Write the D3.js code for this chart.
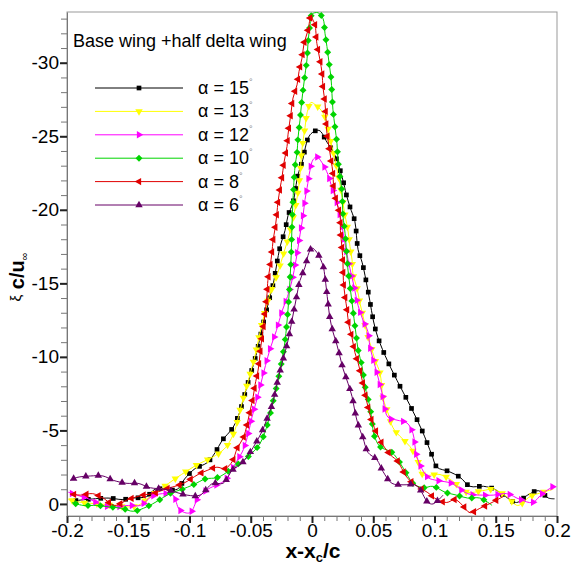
<!DOCTYPE html>
<html>
<head>
<meta charset="utf-8">
<script src="https://cdn.jsdelivr.net/npm/d3@7"></script>
<style>
  body { margin: 0; background: #fff; }
  svg { display: block; font-family: Arial, "Liberation Sans", sans-serif; }
</style>
</head>
<body>
<svg id="chart" width="574" height="563"></svg>
<script>
// legend labels, colours
var alphas = [15, 13, 12, 10, 8, 6];
var colors = ["#000000", "#ffff00", "#ff00ff", "#00d400", "#e00000", "#660066"];

var xTicks = [-0.2, -0.15, -0.1, -0.05, 0, 0.05, 0.1, 0.15, 0.2];
var xTickLabels = ["-0.2", "-0.15", "-0.1", "-0.05", "0", "0.05", "0.1", "0.15", "0.2"];
var yTicks = [0, -5, -10, -15, -20, -25, -30];
var yTickLabels = ["0", "-5", "-10", "-15", "-20", "-25", "-30"];

// [x - xc / c, xi c / u]
var a15 = [[-0.196,-0.2],[-0.1665,-0.4],[-0.155,-0.3],[-0.146,-0.4],[-0.135,-0.5],[-0.128,-1.0],
  [-0.110,-1.0],[-0.104,-1.7],[-0.0955,-2.4],[-0.0857,-2.8],[-0.079,-3.5],[-0.0735,-4.3],
  [-0.0645,-5.2],[-0.0588,-6.3],[-0.0547,-7.5],[-0.052,-8.3],[-0.0457,-10.1],[-0.040,-12.2],
  [-0.0343,-14.1],[-0.0318,-14.9],[-0.026,-17.5],[-0.022,-18.6],[-0.0196,-19.6],[-0.0155,-20.5],
  [-0.0114,-22.4],[-0.0082,-23.2],[-0.0016,-25.1],[0.0057,-25.4],[0.0122,-24.6],[0.0188,-23.7],
  [0.0253,-22.0],[0.0278,-21.1],[0.031,-20.2],[0.035,-19.2],[0.0376,-17.3],[0.041,-16.4],
  [0.0457,-14.5],[0.052,-11.8],[0.0596,-10.1],[0.0694,-8.4],[0.080,-6.7],[0.0898,-5.0],
  [0.098,-3.3],[0.102,-2.5],[0.112,-2.2],[0.121,-1.8],[0.129,-1.2],[0.140,-1.2],[0.149,-1.0],
  [0.158,-0.5],[0.167,-0.1],[0.176,-0.6],[0.185,-0.9],[0.193,-0.4],[0.198,-0.35]];

var a13 = [[-0.199,-0.3],[-0.188,-0.1],[-0.173,0.0],[-0.161,0.1],[-0.150,0.2],[-0.142,0.1],
  [-0.132,-0.5],[-0.122,-1.1],[-0.112,-1.7],[-0.101,-2.3],[-0.093,-2.7],[-0.083,-3.1],
  [-0.075,-3.5],[-0.069,-4.0],[-0.063,-5.0],[-0.059,-6.3],[-0.053,-8.1],[-0.0465,-10.1],
  [-0.041,-12.2],[-0.035,-14.1],[-0.028,-15.7],[-0.024,-16.8],[-0.018,-18.5],[-0.012,-20.9],
  [-0.0098,-22.4],[-0.0082,-24.1],[-0.0057,-25.6],[-0.004,-26.6],[-0.0008,-27.3],[0.0033,-27.1],
  [0.0082,-26.7],[0.0114,-26.1],[0.0139,-25.2],[0.0163,-24.3],[0.0188,-23.4],[0.0229,-21.7],
  [0.027,-19.6],[0.0294,-18.6],[0.031,-17.5],[0.0327,-16.6],[0.0335,-15.6],[0.0367,-14.7],
  [0.039,-13.7],[0.0416,-12.8],[0.0449,-11.6],[0.0482,-10.7],[0.0514,-9.8],[0.0555,-8.9],
  [0.058,-7.2],[0.062,-6.2],[0.066,-5.2],[0.0718,-4.6],[0.080,-3.9],[0.0857,-3.1],[0.0906,-2.0],
  [0.1045,-2.0],[0.114,-1.6],[0.1265,-0.8],[0.139,-0.9],[0.148,-1.0],[0.159,-0.5],[0.168,0.1],
  [0.178,-0.5],[0.1886,-0.8],[0.197,-1.0]];

var a12 = [[-0.199,-0.8],[-0.192,-0.6],[-0.181,-0.3],[-0.171,0.1],[-0.161,0.2],[-0.150,0.1],
  [-0.140,0.1],[-0.131,-0.5],[-0.122,-0.7],[-0.1135,-0.6],[-0.108,0.4],[-0.0996,0.6],
  [-0.093,-0.4],[-0.085,-1.0],[-0.0776,-1.3],[-0.071,-1.6],[-0.065,-2.4],[-0.060,-3.1],
  [-0.056,-3.7],[-0.052,-4.8],[-0.049,-5.9],[-0.045,-7.1],[-0.042,-8.1],[-0.038,-9.4],
  [-0.034,-10.6],[-0.029,-11.8],[-0.0245,-13.1],[-0.020,-14.1],[-0.0163,-15.2],[-0.013,-16.6],
  [-0.0098,-18.3],[-0.0073,-19.6],[-0.0057,-20.7],[-0.004,-21.5],[-0.0016,-22.7],[0.0008,-23.4],
  [0.004,-23.6],[0.0082,-23.2],[0.013,-22.4],[0.0163,-21.5],[0.0196,-20.7],[0.0229,-19.6],
  [0.0253,-18.5],[0.0278,-17.3],[0.031,-16.0],[0.0343,-14.8],[0.0376,-13.5],[0.0416,-12.5],
  [0.0457,-11.7],[0.0473,-10.7],[0.053,-8.9],[0.057,-7.6],[0.062,-5.9],[0.0694,-5.7],
  [0.0776,-5.5],[0.0824,-4.8],[0.0857,-3.2],[0.0947,-1.8],[0.102,-1.6],[0.114,-1.4],
  [0.127,-0.7],[0.139,-0.6],[0.148,-0.6],[0.159,-0.7],[0.170,-0.3],[0.180,-0.1],[0.188,-0.7],
  [0.197,-1.2]];

var a10 = [[-0.196,-0.1],[-0.187,0.1],[-0.1755,0.1],[-0.166,0.2],[-0.155,0.3],[-0.146,0.5],
  [-0.135,0.2],[-0.126,-0.2],[-0.116,-0.7],[-0.106,-1.0],[-0.097,-1.3],[-0.087,-1.7],
  [-0.077,-1.8],[-0.067,-2.3],[-0.059,-2.8],[-0.051,-3.3],[-0.0425,-4.1],[-0.036,-5.5],
  [-0.032,-6.9],[-0.028,-8.3],[-0.0245,-9.8],[-0.022,-11.1],[-0.0196,-13.2],[-0.018,-15.2],
  [-0.017,-16.9],[-0.0163,-19.0],[-0.0155,-20.7],[-0.0139,-22.9],[-0.0122,-23.9],[-0.0114,-24.9],
  [-0.0098,-26.1],[-0.0082,-27.5],[-0.0057,-29.2],[-0.004,-30.3],[-0.0033,-31.3],[-0.0016,-32.6],
  [0.0,-33.3],[0.0049,-33.4],[0.009,-33.0],[0.0106,-32.0],[0.0122,-31.1],[0.0139,-30.0],
  [0.0155,-29.0],[0.0163,-27.9],[0.0171,-26.8],[0.0188,-25.6],[0.0204,-24.5],[0.0212,-23.4],
  [0.0229,-22.2],[0.0245,-21.2],[0.0253,-19.6],[0.027,-18.4],[0.0286,-16.7],[0.0294,-15.9],
  [0.031,-14.8],[0.0327,-13.7],[0.0343,-12.6],[0.036,-11.5],[0.0376,-10.5],[0.041,-9.3],
  [0.0433,-8.0],[0.0473,-6.6],[0.049,-5.6],[0.0506,-4.7],[0.0555,-3.9],[0.0653,-3.5],
  [0.0718,-2.8],[0.0776,-2.0],[0.0824,-1.4],[0.0906,-1.1],[0.0988,-1.2],[0.1086,-0.8],
  [0.118,-0.6],[0.127,-0.4],[0.137,-0.4],[0.147,0.1]];

var a8 = [[-0.1975,-0.7],[-0.189,-0.6],[-0.179,-0.7],[-0.1706,-0.4],[-0.161,0.1],[-0.150,-0.3],
  [-0.138,-0.6],[-0.130,-0.7],[-0.120,-1.0],[-0.105,-1.4],[-0.093,-2.0],[-0.085,-2.3],
  [-0.0776,-2.5],[-0.071,-2.4],[-0.065,-2.9],[-0.061,-3.8],[-0.056,-4.5],[-0.053,-5.4],
  [-0.0506,-6.3],[-0.048,-7.3],[-0.0465,-8.1],[-0.044,-9.1],[-0.0416,-10.8],[-0.039,-12.5],
  [-0.0367,-14.3],[-0.036,-15.2],[-0.0343,-16.1],[-0.0327,-17.1],[-0.0318,-17.9],[-0.030,-18.8],
  [-0.0286,-19.8],[-0.0278,-20.5],[-0.026,-21.5],[-0.0245,-22.2],[-0.0229,-23.2],[-0.0204,-24.3],
  [-0.0196,-25.1],[-0.0171,-26.6],[-0.0155,-27.6],[-0.0122,-28.5],[-0.0106,-29.4],[-0.0082,-30.3],
  [-0.0065,-31.3],[-0.0033,-32.2],[-0.0008,-33.2],[0.0008,-32.9],[0.0024,-32.6],[0.004,-31.3],
  [0.0065,-30.2],[0.0082,-29.3],[0.009,-28.3],[0.0106,-27.3],[0.0114,-26.2],[0.0122,-25.2],
  [0.0139,-24.3],[0.0155,-23.4],[0.0171,-22.5],[0.0176,-21.6],[0.0196,-20.7],[0.0229,-19.6],
  [0.0232,-18.6],[0.0245,-17.4],[0.0253,-16.4],[0.0256,-15.2],[0.027,-14.1],[0.0286,-13.2],
  [0.030,-12.2],[0.0327,-11.3],[0.035,-10.3],[0.0376,-9.6],[0.041,-8.4],[0.0433,-7.5],
  [0.0457,-6.6],[0.049,-5.6],[0.053,-4.8],[0.058,-4.0],[0.0645,-3.3],[0.070,-2.9],[0.0767,-1.9],
  [0.084,-1.3],[0.094,-0.8],[0.102,-0.3],[0.110,-0.1],[0.1167,-0.3],[0.123,0.1],[0.129,0.6],
  [0.137,0.3],[0.147,-0.1],[0.156,-0.5]];

var a6 = [[-0.1975,-1.6],[-0.192,-1.8],[-0.181,-1.9],[-0.1706,-1.9],[-0.162,-1.6],[-0.151,-1.4],
  [-0.142,-1.4],[-0.132,-1.1],[-0.120,-1.0],[-0.102,-0.6],[-0.0914,-0.6],[-0.081,-1.4],
  [-0.0727,-1.4],[-0.065,-2.3],[-0.057,-2.8],[-0.0506,-3.5],[-0.041,-4.9],[-0.0367,-5.8],
  [-0.032,-6.9],[-0.028,-8.4],[-0.0237,-9.8],[-0.0196,-11.1],[-0.0163,-12.5],[-0.013,-13.9],
  [-0.0098,-15.2],[-0.0057,-16.1],[-0.0024,-17.1],[0.0,-17.4],[0.004,-17.1],[0.009,-16.2],
  [0.0106,-15.4],[0.013,-13.7],[0.0147,-12.6],[0.0171,-11.7],[0.0204,-10.8],[0.0229,-10.0],
  [0.0253,-9.2],[0.0294,-8.2],[0.0327,-7.3],[0.035,-6.3],[0.0376,-5.4],[0.0416,-4.5],
  [0.0457,-3.5],[0.053,-3.0],[0.058,-2.2],[0.0653,-1.4],[0.0743,-1.3],[0.084,-1.3],[0.088,-1.0],
  [0.0947,-0.1],[0.0988,0.0],[0.107,-0.6]];

var series = [a15, a13, a12, a10, a8, a6];

var svg = d3.select("#chart");
var plotL = 67, plotR = 557, plotT = 12, plotB = 516;

var x = d3.scaleLinear().domain([-0.2, 0.2]).range([plotL, plotR]);
var y = d3.scaleLinear().domain([0.82, -33.45]).range([plotB, plotT]);

// marker shapes: square, down tri, right tri, diamond, left tri, up tri
var shapes = [
  { type: d3.symbolSquare, size: 22, rot: 0 },
  { type: d3.symbolTriangle, size: 24, rot: 180 },
  { type: d3.symbolTriangle, size: 24, rot: 90 },
  { type: d3.symbolSquare, size: 24, rot: 45 },
  { type: d3.symbolTriangle, size: 24, rot: -90 },
  { type: d3.symbolTriangle, size: 24, rot: 0 }
];

svg.append("clipPath").attr("id", "plot-clip")
  .append("rect").attr("x", plotL).attr("y", plotT)
  .attr("width", plotR - plotL).attr("height", plotB - plotT);

// frame
svg.append("rect")
  .attr("x", plotL).attr("y", plotT)
  .attr("width", plotR - plotL).attr("height", plotB - plotT)
  .attr("fill", "none").attr("stroke", "#999").attr("stroke-width", 1);

// minor ticks
svg.append("g").attr("transform", "translate(0," + plotB + ")")
  .call(d3.axisBottom(x).tickValues(d3.range(-20, 21).map(function(d){ return d / 100; }))
    .tickSize(5).tickSizeOuter(0).tickFormat(""))
  .call(function(g){ g.select(".domain").remove(); g.selectAll("line").attr("stroke", "#777"); });

svg.append("g").attr("transform", "translate(" + plotL + ",0)")
  .call(d3.axisLeft(y).tickValues(d3.range(0, -34, -1)).tickSize(6).tickSizeOuter(0).tickFormat(""))
  .call(function(g){ g.select(".domain").remove(); g.selectAll("line").attr("stroke", "#777"); });

// major ticks + labels
var xAxis = svg.append("g").attr("transform", "translate(0," + plotB + ")")
  .call(d3.axisBottom(x).tickValues(xTicks).tickSize(7).tickSizeOuter(0).tickPadding(1)
    .tickFormat(function(d, i){ return xTickLabels[i]; }));
xAxis.select(".domain").attr("stroke", "#777");
xAxis.selectAll("line").attr("stroke", "#222").attr("stroke-width", 2);
xAxis.selectAll("text").attr("font-size", 19).attr("fill", "#000")
  .attr("font-family", "Arial, 'Liberation Sans', sans-serif");

var yAxis = svg.append("g").attr("transform", "translate(" + plotL + ",0)")
  .call(d3.axisLeft(y).tickValues(yTicks).tickSize(7).tickSizeOuter(0).tickPadding(1)
    .tickFormat(function(d, i){ return yTickLabels[i]; }));
yAxis.select(".domain").attr("stroke", "#777");
yAxis.selectAll("line").attr("stroke", "#222").attr("stroke-width", 2);
yAxis.selectAll("text").attr("font-size", 19).attr("fill", "#000")
  .attr("font-family", "Arial, 'Liberation Sans', sans-serif");

// curves
var line = d3.line()
  .x(function(d){ return x(d[0]); })
  .y(function(d){ return y(d[1]); })
  .curve(d3.curveCatmullRom.alpha(0.5));

var plot = svg.append("g").attr("clip-path", "url(#plot-clip)");

function symbolPath(i) {
  return d3.symbol().type(shapes[i].type).size(shapes[i].size)();
}

series.forEach(function(data, i) {
  var p = plot.append("path")
    .datum(data)
    .attr("d", line)
    .attr("fill", "none")
    .attr("stroke", colors[i])
    .attr("stroke-width", 1);

  // symbols spaced evenly along the drawn curve
  var node = p.node();
  var len = node.getTotalLength();
  var pts = [];
  for (var s = 4; s < len; s += 12.5) {
    var pt = node.getPointAtLength(s);
    if (pt.y >= plotT - 2) pts.push(pt);
  }
  plot.selectAll(".m" + i)
    .data(pts).enter()
    .append("path")
    .attr("class", "m" + i)
    .attr("d", symbolPath(i))
    .attr("transform", function(d){ return "translate(" + d.x + "," + d.y + ") rotate(" + shapes[i].rot + ")"; })
    .attr("fill", colors[i]);
});

// legend
svg.append("text")
  .attr("x", 73).attr("y", 47)
  .attr("font-size", 18).attr("fill", "#000")
  .text("Base wing +half delta wing");

var legend = svg.append("g");
alphas.forEach(function(a, i) {
  var ly = 88 + i * 23.4;
  legend.append("line")
    .attr("x1", 95).attr("x2", 183).attr("y1", ly).attr("y2", ly)
    .attr("stroke", colors[i]).attr("stroke-width", 1);
  legend.append("path")
    .attr("d", symbolPath(i))
    .attr("transform", "translate(139," + ly + ") rotate(" + shapes[i].rot + ")")
    .attr("fill", colors[i]);
  var t = legend.append("text")
    .attr("x", 198).attr("y", ly + 6)
    .attr("font-size", 18).attr("fill", "#000");
  t.append("tspan").text("\u03b1 = " + a);
  t.append("tspan").attr("font-size", 9).attr("dy", -9).attr("fill", "#888").text("\u00b0");
});

// axis titles
var xt = svg.append("text")
  .attr("x", 313).attr("y", 558)
  .attr("text-anchor", "middle")
  .attr("font-size", 21).attr("font-weight", "bold").attr("fill", "#000");
xt.append("tspan").text("x-x");
xt.append("tspan").attr("font-size", 13).attr("dy", 4).text("c");
xt.append("tspan").attr("dy", -4).text("/c");

var yt = svg.append("text")
  .attr("transform", "translate(24,277) rotate(-90)")
  .attr("text-anchor", "middle")
  .attr("fill", "#000");
yt.append("tspan").attr("font-size", 15).attr("dy", -3).text("\u03be");
yt.append("tspan").attr("font-size", 20).attr("font-weight", "bold").attr("dy", 3).text(" c/u");
yt.append("tspan").attr("font-size", 11).attr("dy", 4).text("\u221e");
</script>
</body>
</html>
